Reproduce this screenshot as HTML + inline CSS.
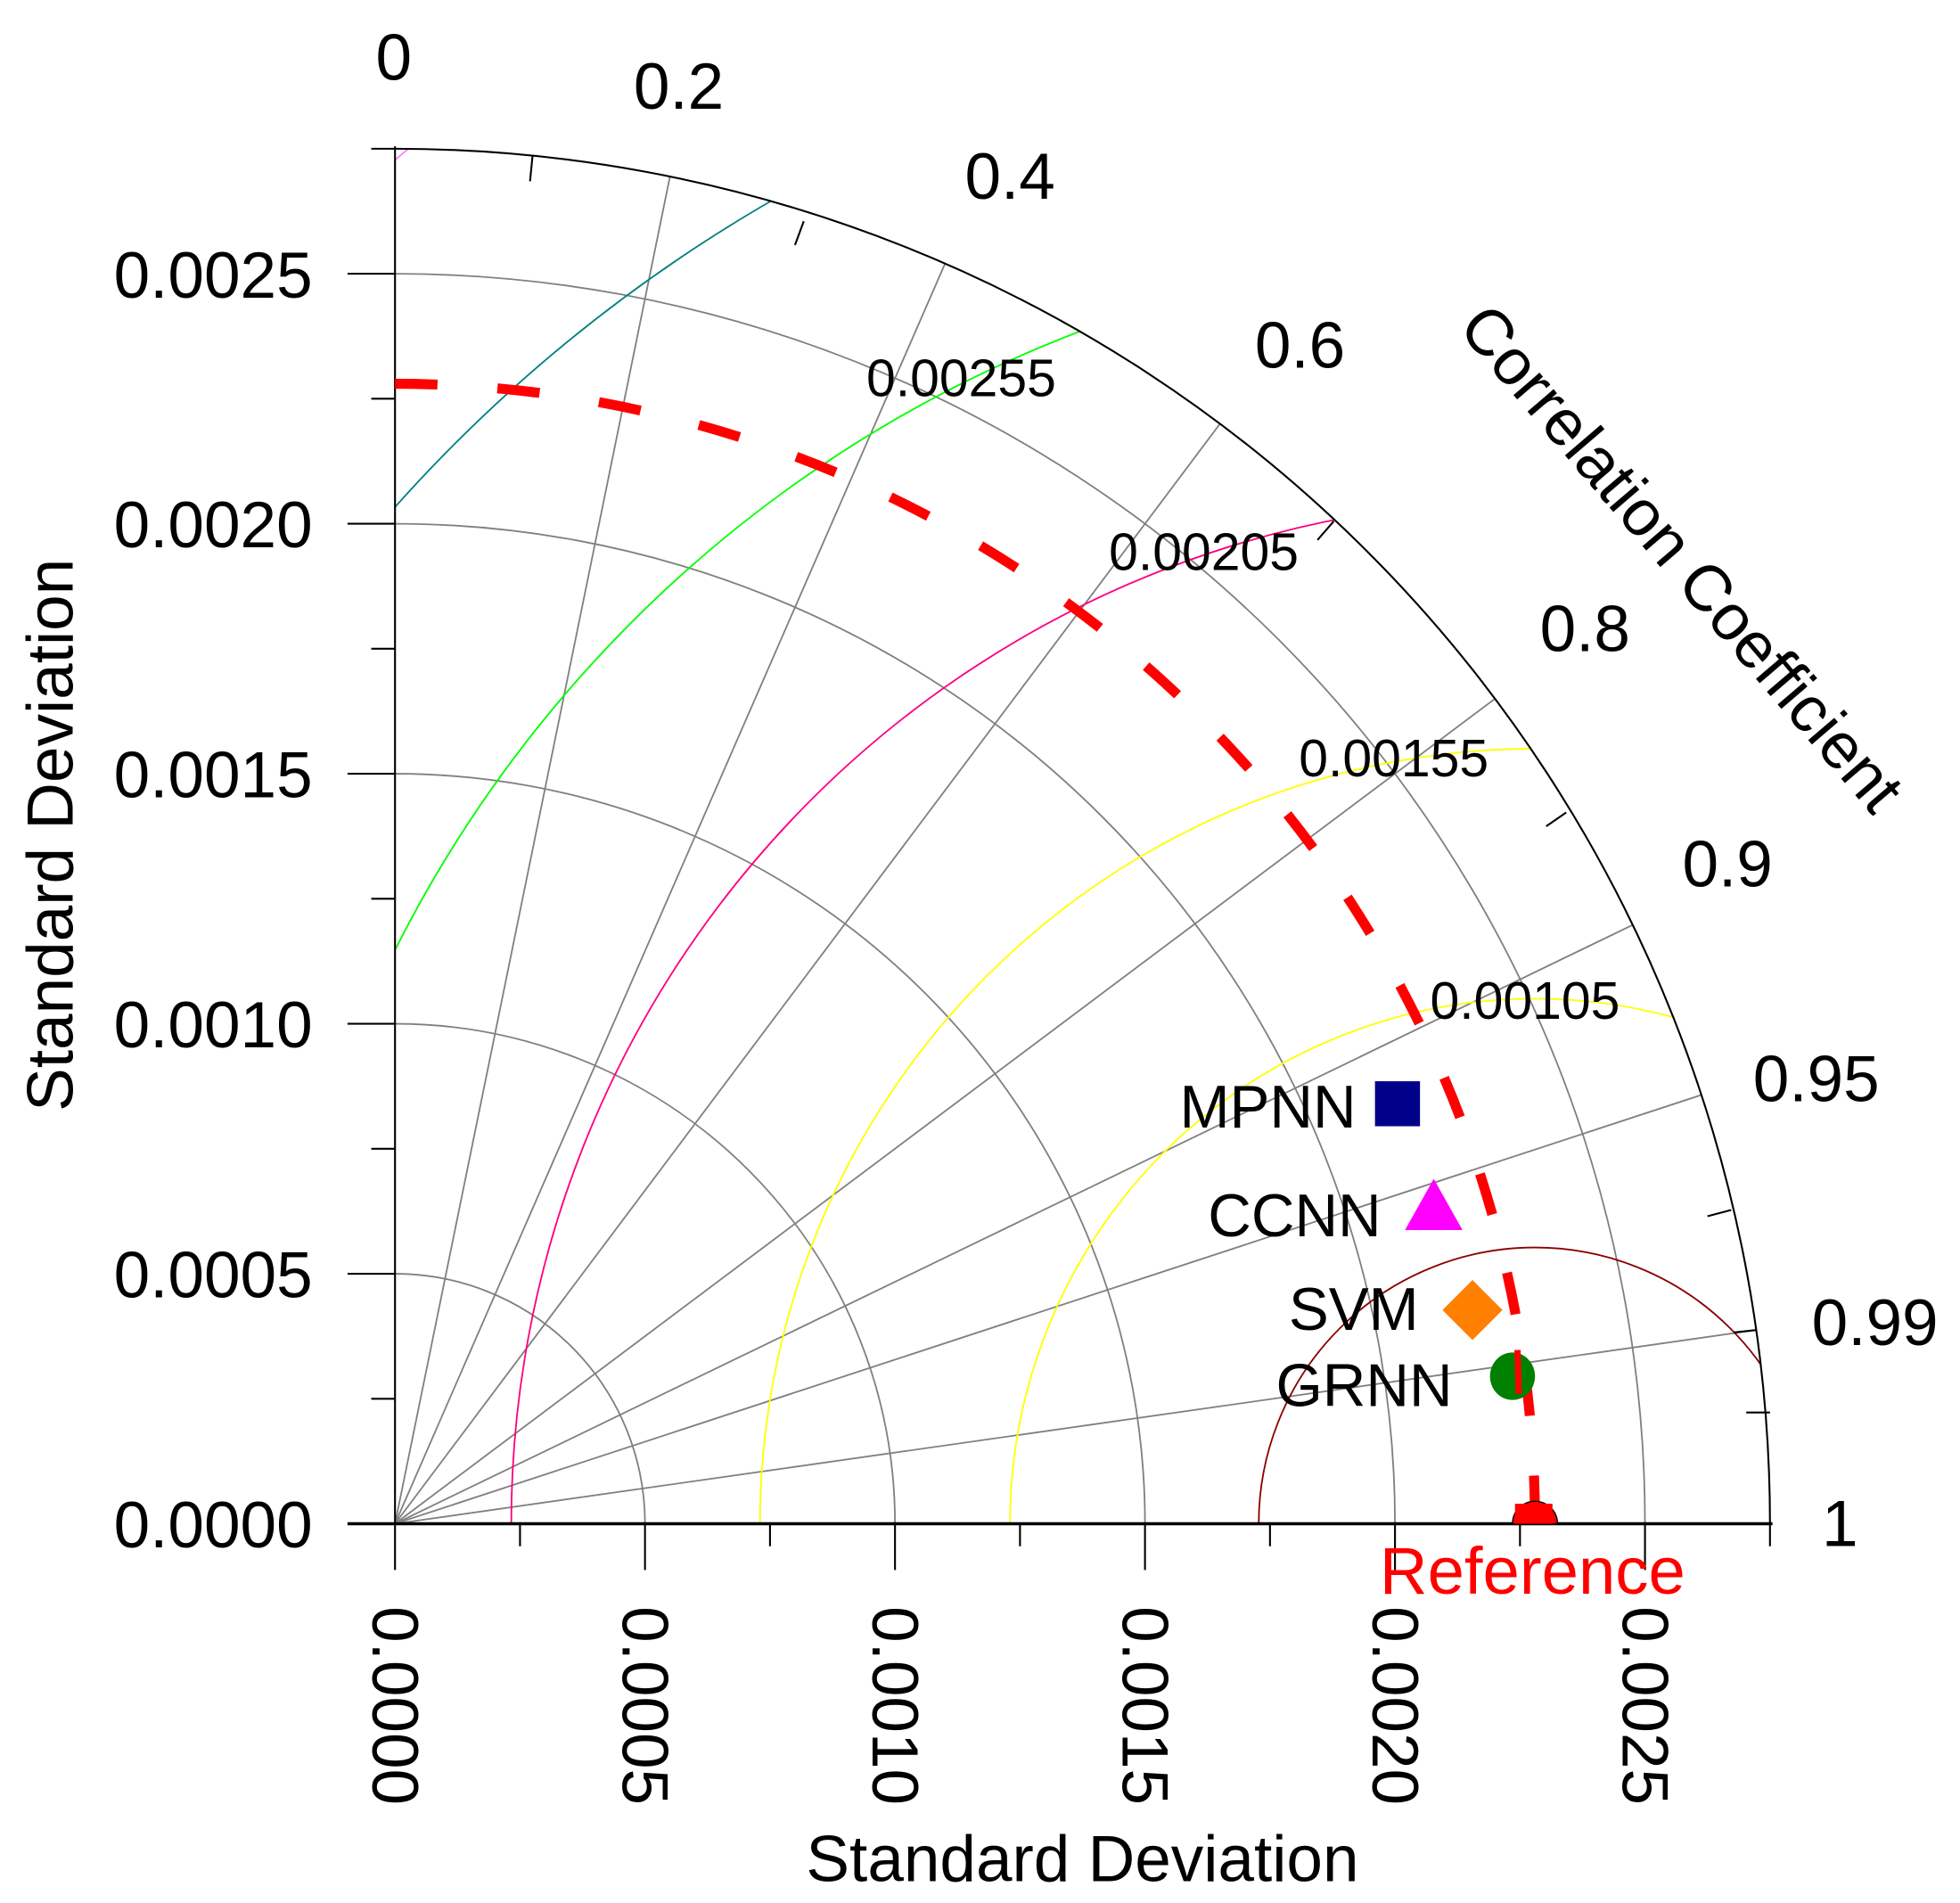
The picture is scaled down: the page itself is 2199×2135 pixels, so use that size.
<!DOCTYPE html>
<html><head><meta charset="utf-8"><style>html,body{margin:0;padding:0;background:#fff;width:2199px;height:2135px;overflow:hidden}svg{display:block;overflow:hidden}</style></head><body>
<svg width="2199" height="2135" viewBox="0 0 1568 1522.4" xmlns="http://www.w3.org/2000/svg" font-family="Liberation Sans, Arial, sans-serif">
<defs><clipPath id="q"><path d="M316,1219 L316,119 A1100,1100 0 0 1 1416,1219 Z"/></clipPath></defs>
<rect width="1568" height="1523" fill="#fff"/>
<g fill="none" stroke="#808080" stroke-width="1.3">
<path d="M316,1019 A200,200 0 0 1 516,1219"/>
<path d="M316,819 A400,400 0 0 1 716,1219"/>
<path d="M316,619 A600,600 0 0 1 916,1219"/>
<path d="M316,419 A800,800 0 0 1 1116,1219"/>
<path d="M316,219 A1000,1000 0 0 1 1316,1219"/>
<line x1="316" y1="1219" x2="536" y2="141"/>
<line x1="316" y1="1219" x2="756" y2="211"/>
<line x1="316" y1="1219" x2="976" y2="339"/>
<line x1="316" y1="1219" x2="1196" y2="559"/>
<line x1="316" y1="1219" x2="1306" y2="740"/>
<line x1="316" y1="1219" x2="1361" y2="876"/>
<line x1="316" y1="1219" x2="1405" y2="1064"/>
</g>
<g clip-path="url(#q)" fill="none" stroke-width="1.3">
<circle cx="1228" cy="1219" r="221" stroke="#8b0000"/>
<circle cx="1228" cy="1219" r="420" stroke="#ffff00"/>
<circle cx="1228" cy="1219" r="620" stroke="#ffff00"/>
<circle cx="1228" cy="1219" r="819" stroke="#ff0080"/>
<circle cx="1228" cy="1219" r="1021" stroke="#00ff00"/>
<circle cx="1228" cy="1219" r="1222" stroke="#008080"/>
<circle cx="1228" cy="1219" r="1422" stroke="#ff80ff"/>
</g>
<g fill="none" stroke="#000" stroke-width="1.5">
<path d="M316,119 A1100,1100 0 0 1 1416,1219"/>
<line x1="316" y1="117" x2="316" y2="1256"/>
<line x1="278" y1="1219" x2="1418" y2="1219" stroke-width="2.5"/>
<line x1="278" y1="219" x2="316" y2="219"/><line x1="278" y1="419" x2="316" y2="419"/><line x1="278" y1="619" x2="316" y2="619"/><line x1="278" y1="819" x2="316" y2="819"/><line x1="278" y1="1019" x2="316" y2="1019"/>
<line x1="297" y1="119" x2="316" y2="119"/><line x1="297" y1="319" x2="316" y2="319"/><line x1="297" y1="519" x2="316" y2="519"/><line x1="297" y1="719" x2="316" y2="719"/><line x1="297" y1="919" x2="316" y2="919"/><line x1="297" y1="1119" x2="316" y2="1119"/>
<line x1="516" y1="1219" x2="516" y2="1256"/><line x1="716" y1="1219" x2="716" y2="1256"/><line x1="916" y1="1219" x2="916" y2="1256"/><line x1="1116" y1="1219" x2="1116" y2="1256"/><line x1="1316" y1="1219" x2="1316" y2="1256"/>
<line x1="416" y1="1219" x2="416" y2="1237"/><line x1="616" y1="1219" x2="616" y2="1237"/><line x1="816" y1="1219" x2="816" y2="1237"/><line x1="1016" y1="1219" x2="1016" y2="1237"/><line x1="1216" y1="1219" x2="1216" y2="1237"/><line x1="1416" y1="1219" x2="1416" y2="1237"/>
<line x1="426" y1="125" x2="424" y2="145"/>
<line x1="643" y1="177" x2="636" y2="196"/>
<line x1="1067" y1="417" x2="1054" y2="432"/>
<line x1="1253" y1="650" x2="1237" y2="661"/>
<line x1="1385" y1="968" x2="1366" y2="973"/>
<line x1="1405" y1="1064" x2="1387" y2="1066"/>
<line x1="1416" y1="1130" x2="1397" y2="1130"/>
</g>
<path d="M316,307 A912,912 0 0 1 1228,1219" fill="none" stroke="#ff0000" stroke-width="8" stroke-dasharray="34,48"/>
<g font-size="52" fill="#000" text-anchor="end">
<text x="250" y="238">0.0025</text><text x="250" y="438">0.0020</text><text x="250" y="638">0.0015</text><text x="250" y="838">0.0010</text><text x="250" y="1038">0.0005</text><text x="250" y="1238">0.0000</text>
</g>
<g font-size="52" fill="#000">
<text transform="translate(298,1285) rotate(90)">0.0000</text>
<text transform="translate(498,1285) rotate(90)">0.0005</text>
<text transform="translate(698,1285) rotate(90)">0.0010</text>
<text transform="translate(898,1285) rotate(90)">0.0015</text>
<text transform="translate(1098,1285) rotate(90)">0.0020</text>
<text transform="translate(1298,1285) rotate(90)">0.0025</text>
</g>
<g font-size="52" fill="#000" text-anchor="middle">
<text x="315" y="64">0</text><text x="543" y="87">0.2</text><text x="808" y="159">0.4</text><text x="1040" y="294">0.6</text><text x="1268" y="521">0.8</text><text x="1382" y="709">0.9</text><text x="1453" y="881">0.95</text><text x="1500" y="1076">0.99</text><text x="1472" y="1237">1</text>
<text x="866" y="1505">Standard Deviation</text>
<text transform="translate(58,668) rotate(-90)">Standard Deviation</text>
<text transform="translate(1332,458) rotate(49.5)">Correlation Coefficient</text>
</g>
<g font-size="42" fill="#000" text-anchor="middle">
<text x="769" y="317">0.00255</text><text x="963" y="456">0.00205</text><text x="1115" y="621">0.00155</text><text x="1220" y="815">0.00105</text>
</g>
<g font-size="48" fill="#000" text-anchor="end">
<text x="1085" y="902">MPNN</text><text x="1105" y="989">CCNN</text><text x="1135" y="1064">SVM</text><text x="1162" y="1125">GRNN</text>
</g>
<rect x="1100" y="865" width="36" height="36" fill="#00008b"/>
<polygon points="1147,943 1170,984 1124,984" fill="#ff00ff"/>
<polygon points="1178,1024 1202,1048 1178,1072 1154,1048" fill="#ff8000"/>
<ellipse cx="1210" cy="1101" rx="18" ry="19" fill="#008000"/>
<line x1="1214" y1="1080" x2="1215" y2="1115" stroke="#ff0000" stroke-width="5"/>
<path d="M1210,1219 A18,18 0 0 1 1246,1219 Z" fill="#ff0000" stroke="#000" stroke-width="1"/>
<rect x="1212" y="1203" width="30" height="16" fill="#ff0000"/>
<text x="1226" y="1275" font-size="53" fill="#ff0000" text-anchor="middle">Reference</text>
</svg>
</body></html>
